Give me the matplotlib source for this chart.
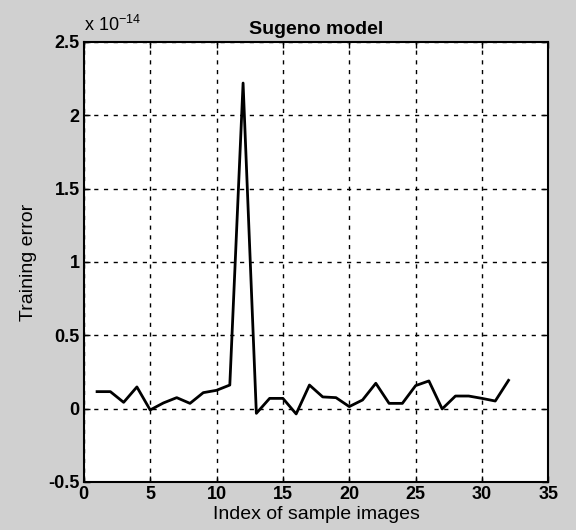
import numpy as np
import matplotlib
matplotlib.use("Agg")
import matplotlib.pyplot as plt

# training error per sample image (units of 1e-14)
sample_idx = list(range(1, 33))
train_err = [0.116, 0.116, 0.043, 0.148, -0.009, 0.039, 0.075, 0.036,
             0.109, 0.125, 0.161, 2.22, -0.032, 0.07, 0.07, -0.036,
             0.161, 0.08, 0.075, 0.014, 0.059, 0.173, 0.036, 0.036,
             0.157, 0.189, -0.002, 0.086, 0.086, 0.07, 0.052, 0.193]
xticks = [0, 5, 10, 15, 20, 25, 30, 35]
yticks = [-0.5, 0, 0.5, 1, 1.5, 2, 2.5]

plt.rcParams['font.family'] = ['Liberation Sans', 'DejaVu Sans']

fig = plt.figure(figsize=(5.76, 5.30), dpi=100, facecolor='#d0d0d0')
ax = fig.add_axes([0.1455, 0.0906, 0.8065, 0.8302])
ax.set_facecolor('white')

err = np.array(train_err) * 1e-14
ax.plot(sample_idx, err, color='black', lw=2.0)

ax.set_xlim(0, 35)
ax.set_ylim(-0.5e-14, 2.5e-14)
ax.set_xticks(xticks)
ax.set_yticks([v * 1e-14 for v in yticks])
ax.set_yticklabels(['-0.5', '0', '0.5', '1', '1.5', '2', '2.5'])
ax.set_xticklabels([str(v) for v in xticks])
ax.tick_params(direction='in', length=4, labelsize=13, width=1,
               top=True, right=True, pad=3)
for lab in ax.get_xticklabels() + ax.get_yticklabels():
    lab.set_fontweight('bold')

ax.grid(True, color='black', linestyle=(0, (3, 4)), linewidth=1)
for s in ax.spines.values():
    s.set_linewidth(1.5)

ax.text(0.0, 1.015, r'x 10$^{\mathregular{-14}}$', transform=ax.transAxes,
        fontsize=13, ha='left', va='bottom')
ax.set_title('Sugeno model', fontsize=14, pad=6, fontweight='semibold')
ax.set_xlabel('Index of sample images', fontsize=14, labelpad=2)
ax.set_ylabel('Training error', fontsize=14, labelpad=8)

fig.savefig('out.png', dpi=100, facecolor=fig.get_facecolor())
